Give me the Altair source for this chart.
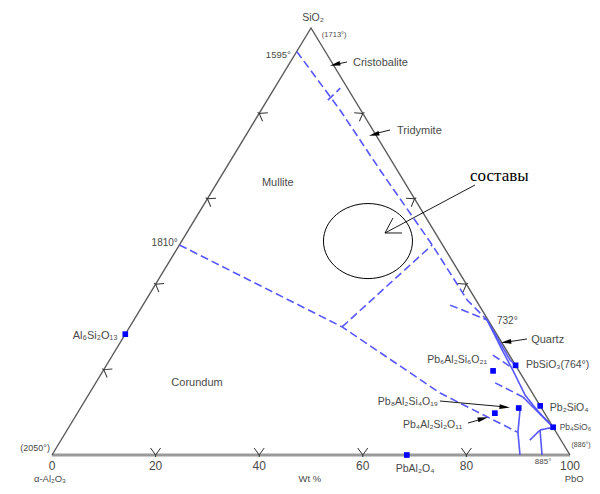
import altair as alt
import pandas as pd

# ---------------- data (wt% PbO, wt% SiO2; Al2O3 = remainder) ----------------
left_right_edges = [(0, 0), (0, 100), (100, 0)]
base_edge = [(0, 0), (100, 0)]

boundary_mullite_silica = [(0, 94.5), (15.2, 80.8), (30.0, 66.7), (48.8, 49.2), (62.0, 36.3), (68.2, 31.6)]
boundary_cristobalite_tridymite = [(11.7, 83.1), (12.7, 85.9)]
boundary_mullite_corundum = [(0, 49.2), (41.0, 30.0), (67.7, 14.5), (87.3, 5.3)]
boundary_mullite_branch = [(41.0, 30.0), (48.8, 49.2)]
boundary_to_732 = [(59.3, 35.1), (68.2, 31.6)]
boundary_to_pbsio3 = [(73.4, 23.4), (78.3, 20.6)]
boundary_pb6 = [(77.1, 16.9), (84.1, 13.6)]
boundary_inner_edge = [(68.2, 31.6), (74.6, 24.6), (79.0, 19.9), (84.3, 14.05), (88.4, 10.5), (93.5, 6.5)]
boundary_edge_pbsio3 = [(68.2, 31.6), (77.3, 22.25), (79.0, 21.0)]
boundary_fan = [(84.1, 13.6), (93.5, 6.5)]
boundary_vertical_1 = [(85.1, 10.5), (87.3, 5.3), (90.35, 0)]
boundary_vertical_2 = [(91.3, 5.85), (94.6, 0)]
boundary_pb4_link = [(91.3, 5.85), (93.5, 6.5)]
boundary_branch_2 = [(90.5, 3.5), (91.3, 5.85)]

dashed_lines = {
    "ms": boundary_mullite_silica, "ct": boundary_cristobalite_tridymite,
    "mc": boundary_mullite_corundum, "mb": boundary_mullite_branch,
    "t732": boundary_to_732, "tps": boundary_to_pbsio3, "pb6": boundary_pb6,
}
solid_lines = {
    "ie": boundary_inner_edge, "ep": boundary_edge_pbsio3, "fan": boundary_fan,
    "v1": boundary_vertical_1, "v2": boundary_vertical_2, "l4": boundary_pb4_link,
    "b2": boundary_branch_2,
}

compound_names = ["Al6Si2O13", "PbAl2O4", "Pb6Al2Si6O21", "PbSiO3", "Pb8Al2Si4O19",
                  "Pb4Al2Si2O11", "Pb2SiO4", "Pb4SiO6"]
compound_pbo = [0, 68.5, 75.3, 79.0, 84.6, 80.6, 88.5, 93.5]
compound_sio2 = [28.3, 0, 19.7, 21.0, 11.0, 9.8, 11.5, 6.5]

tick_values = [20, 40, 60, 80]
right_tick_values = [40, 60, 80]
axis_labels = ["0", "20", "40", "60", "80", "100"]
axis_label_pos = [0, 20, 40, 60, 80, 100]

# labels in diagram coordinates (x along base %, y = SiO2 height %)
label_text = ["SiO₂", "(1713°)", "1595°", "Cristobalite", "Tridymite", "Mullite", "1810°",
              "Al₆Si₂O₁₃", "Corundum", "(2050°)", "α-Al₂O₃", "Wt %", "PbAl₂O₄", "PbO",
              "(886°)", "885°", "732°", "Quartz", "Pb₆Al₂Si₆O₂₁", "PbSiO₃(764°)",
              "Pb₈Al₂Si₄O₁₉", "Pb₂SiO₄", "Pb₄Al₂Si₂O₁₁", "Pb₄SiO₆"]
label_x = [50.4, 52.1, 46.1, 58.1, 66.6, 43.6, 24.3, 12.7, 28.0, -0.4, -0.4, 49.8, 70.1, 100.8,
           100.3, 94.8, 85.9, 92.5, 84.0, 91.5, 74.5, 96.1, 79.2, 98.0]
label_y = [102.3, 98.4, 93.7, 91.8, 75.9, 63.7, 49.6, 27.9, 16.9, 1.6, -5.6, -5.6, -3.3, -5.6,
           2.3, -1.6, 31.4, 26.9, 22.2, 21.1, 12.4, 11.0, 7.0, 6.6]
label_align = ["center", "left", "right", "left", "left", "center", "right", "right", "center",
               "right", "center", "center", "center", "center", "left", "center", "left", "left",
               "right", "left", "right", "left", "right", "left"]
label_size = [10.5, 7.5, 9.5, 11, 11, 11, 10, 11, 11, 9, 9.5, 9.5, 10.5, 9.5, 7, 8, 10, 11,
              10.5, 10.5, 10.5, 10.5, 10.5, 8.5]

note_text = "составы"
note_pos = (80.7, 65.3)
ellipse_center = (61.0, 50.1)
note_arrow = [(65.83, 55.5), (64.29, 51.99), (67.57, 51.99)]
note_shaft = [(64.29, 51.99), (81.66, 63.23)]

pointer_shafts = {
    "cr": [(56.95, 92.04), (54.25, 91.33)],
    "tr": [(65.25, 76.11), (62.16, 75.18)],
    "qz": [(91.7, 27.17), (87.84, 26.46)],
    "p8": [(74.9, 12.65), (87.64, 11.24)],
    "p4": [(80.3, 7.49), (83.4, 8.55)],
}
pointer_heads_x = [54.63, 62.16, 87.64, 87.4, 83.2]
pointer_heads_y = [91.45, 75.06, 26.46, 11.24, 8.55]
pointer_heads_dir = [347, 346, 353, 185, 165]

# ---------------- geometry helpers ----------------
W, H = 584, 476
xs = alt.Scale(domain=[-8.494, 104.25], nice=False, zero=False)
ys = alt.Scale(domain=[-6.79, 104.68], nice=False, zero=False)
X = alt.X("x:Q", scale=xs, axis=None)
Y = alt.Y("y:Q", scale=ys, axis=None)


def tern(p, s):
    return p + s / 2.0, s


def line_rows(lines, style, ternary=True):
    rows = []
    for name, pts in lines.items():
        for i, (a, b) in enumerate(pts):
            x, y = tern(a, b) if ternary else (a, b)
            rows.append({"line": name, "order": i, "x": x, "y": y, "style": style})
    return rows


bl = pd.DataFrame(line_rows(dashed_lines, "dashed") + line_rows(solid_lines, "solid"))
blue = alt.Chart(bl).mark_line(color="#5757ff", strokeWidth=1.6).encode(
    x=X, y=Y, detail="line:N", order="order:Q",
    strokeDash=alt.StrokeDash("style:N", scale=alt.Scale(domain=["dashed", "solid"],
                                                         range=[[8, 4], [1, 0]]), legend=None))

edges = alt.Chart(pd.DataFrame(line_rows({"e": left_right_edges}, "s"))).mark_line(
    color="#5a5a5a", strokeWidth=1.4).encode(x=X, y=Y, order="order:Q")
base = alt.Chart(pd.DataFrame(line_rows({"b": base_edge}, "s"))).mark_line(
    color="#9a9a9a", strokeWidth=3).encode(x=X, y=Y, order="order:Q")

# chevron ticks on edges
tick_rows = []
for v in tick_values:
    x, y = tern(v, 0)
    tick_rows.append({"x": x, "y": y, "angle": 0})
    x, y = tern(0, v)
    tick_rows.append({"x": x, "y": y, "angle": 121.4})
for v in right_tick_values:
    x, y = tern(100 - v, v)
    tick_rows.append({"x": x, "y": y, "angle": 238.6})
CHEVRON = "M -1 -1.4 L 0 0 L 1 -1.4 M 0 0 L 0 0.4"
ticks = alt.Chart(pd.DataFrame(tick_rows)).mark_point(
    shape=CHEVRON, filled=False, color="#333333", strokeWidth=1, size=100, opacity=1).encode(
    x=X, y=Y, angle=alt.Angle("angle:Q", scale=None))

# compounds
cx, cy = zip(*[tern(p, s) for p, s in zip(compound_pbo, compound_sio2)])
comp = alt.Chart(pd.DataFrame({"x": cx, "y": cy, "name": compound_names})).mark_point(
    shape="square", filled=True, color="#0000ff", size=32, opacity=1).encode(x=X, y=Y)

# ellipse of compositions
ELLIPSE = "M -1 0 A 1 0.843 0 1 1 1 0 A 1 0.843 0 1 1 -1 0 Z"
ell = alt.Chart(pd.DataFrame({"x": [ellipse_center[0]], "y": [ellipse_center[1]]})).mark_point(
    shape=ELLIPSE, filled=False, color="black", strokeWidth=1, size=7921, opacity=1).encode(x=X, y=Y)

arrow_lines = {"head": note_arrow, "shaft": note_shaft}
arrow_lines.update(pointer_shafts)
arr = alt.Chart(pd.DataFrame(line_rows(arrow_lines, "s", ternary=False))).mark_line(
    color="black", strokeWidth=0.9).encode(x=X, y=Y, detail="line:N", order="order:Q")

WEDGE = "M -1 0 L 1 -0.45 L 1 0.45 Z"
heads = alt.Chart(pd.DataFrame({"x": pointer_heads_x, "y": pointer_heads_y,
                                "angle": pointer_heads_dir})).mark_point(
    shape=WEDGE, filled=True, color="black", size=110, opacity=1).encode(
    x=X, y=Y, angle=alt.Angle("angle:Q", scale=None))

# texts
lab = pd.DataFrame({"text": label_text, "x": label_x, "y": label_y,
                    "align": label_align, "size": label_size})
text_layers = []
for (al, sz), g in lab.groupby(["align", "size"]):
    text_layers.append(alt.Chart(g).mark_text(
        align=al, baseline="middle", fontSize=float(sz), font="Liberation Sans",
        color="#4a4a4a").encode(x=X, y=Y, text="text:N"))

axl = alt.Chart(pd.DataFrame({"text": axis_labels, "x": axis_label_pos,
                              "y": [-2.6] * len(axis_labels)})).mark_text(
    align="center", baseline="middle", fontSize=12, font="Liberation Sans",
    color="#4a4a4a").encode(x=X, y=Y, text="text:N")

note = alt.Chart(pd.DataFrame({"text": [note_text], "x": [note_pos[0]], "y": [note_pos[1]]})).mark_text(
    align="left", baseline="middle", fontSize=17, font="Liberation Serif",
    color="black").encode(x=X, y=Y, text="text:N")

chart = alt.layer(base, edges, blue, ticks, ell, arr, heads, comp, axl, note, *text_layers).properties(
    width=W, height=H, autosize="none", padding=0, background="white"
).configure_view(strokeWidth=0)

chart.save("out.html", embed_options={"renderer": "svg", "actions": False})
